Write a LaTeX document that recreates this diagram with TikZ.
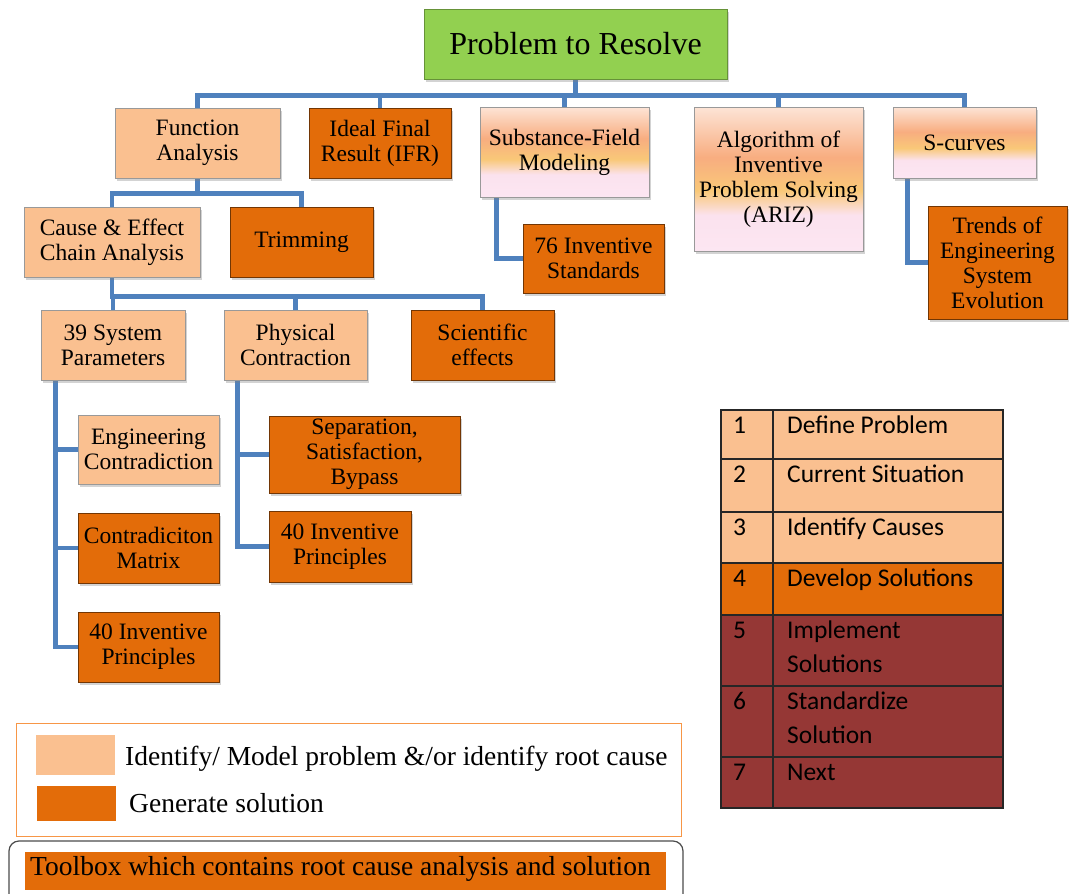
\documentclass[tikz,border=0pt]{standalone}
\usepackage{fontspec}
\setmainfont{Liberation Serif}
\newfontfamily\tabfont{Carlito}
\usetikzlibrary{shadows,backgrounds}

\definecolor{peach}{HTML}{FAC090}
\definecolor{solorange}{HTML}{E36C09}
\definecolor{leaf}{HTML}{92D050}
\definecolor{wine}{HTML}{953735}
\definecolor{link}{HTML}{4F81BD}
\definecolor{legendline}{HTML}{F79646}
\definecolor{peachtop}{HTML}{FDE4D6}
\definecolor{salmon}{HTML}{F8AD80}
\definecolor{sunyellow}{HTML}{F9C878}
\definecolor{pinka}{HTML}{FBE2EE}
\definecolor{pinkb}{HTML}{FCE6F2}

% sunset-like fill used by the three modelling tools
\pgfdeclareverticalshading{sunset}{100bp}{color(0bp)=(pinkb); color(25bp)=(pinkb);
  color(37.5bp)=(pinka); color(46bp)=(sunyellow); color(57.5bp)=(salmon);
  color(75bp)=(peachtop); color(100bp)=(peachtop)}

\tikzset{
  box/.style={draw=black!40, line width=0.8pt, inner sep=0pt, align=center,
    font=\fontsize{23.5}{25}\selectfont,
    drop shadow={shadow xshift=2pt, shadow yshift=-3pt, opacity=0.35}},
  probbox/.style={box, fill=peach},
  solbox/.style={box, fill=solorange, draw=black!50!solorange},
  sunbox/.style={box, shading=sunset},
  conn/.style={draw=link, line width=4.5pt},
  tabtext/.style={anchor=base west, inner sep=0pt, font=\tabfont\fontsize{25.5}{34}\selectfont},
  legtext/.style={anchor=base west, inner sep=0pt, font=\fontsize{27.5}{30}\selectfont},
}

\begin{document}
\begin{tikzpicture}[x=1pt, y=-1pt]
\clip (0,0) rectangle (1069,894);

% root
\node[box, fill=leaf, draw=black!30!leaf, minimum width=303, minimum height=70,
  font=\fontsize{32}{34}\selectfont] (root) at (575.5,44) {Problem to Resolve};

% first level
\node[probbox, minimum width=165, minimum height=70] (fa) at (197.5,143) {Function\\Analysis};
\node[solbox, minimum width=142, minimum height=70] (ifr) at (380,143) {Ideal Final\\Result (IFR)};
\node[sunbox, minimum width=169, minimum height=90] (sf) at (564.5,152) {Substance-Field\\Modeling};
\node[sunbox, minimum width=169, minimum height=144] (ariz) at (778.5,179) {Algorithm of\\Inventive\\Problem Solving\\(ARIZ)};
\node[sunbox, minimum width=143, minimum height=71] (sc) at (964.5,142.5) {S-curves};

% second level
\node[probbox, minimum width=176, minimum height=70] (cause) at (112,242) {Cause \& Effect\\Chain Analysis};
\node[solbox, minimum width=143, minimum height=70] (trim) at (301.5,242) {Trimming};
\node[solbox, minimum width=141, minimum height=69] (inv76) at (593.5,258.5) {76 Inventive\\Standards};
\node[solbox, minimum width=139, minimum height=113] (trends) at (997.5,262.5) {Trends of\\Engineering\\System\\Evolution};

% third level
\node[probbox, minimum width=144, minimum height=70] (sp39) at (113,345) {39 System\\Parameters};
\node[probbox, minimum width=143, minimum height=70] (phys) at (295.5,345) {Physical\\Contraction};
\node[solbox, minimum width=143, minimum height=70] (sci) at (482.5,345) {Scientific\\effects};

% fourth level
\node[probbox, minimum width=141, minimum height=69] (ec) at (148.5,449.5) {Engineering\\Contradiction};
\node[solbox, minimum width=141, minimum height=70] (cm) at (148.5,548) {Contradiciton\\Matrix};
\node[solbox, minimum width=141, minimum height=70] (ip1) at (148.5,647) {40 Inventive\\Principles};
\node[solbox, minimum width=191, minimum height=77] (sep) at (364.5,454.5) {Separation,\\Satisfaction,\\Bypass};
\node[solbox, minimum width=142, minimum height=71] (ip2) at (340,546.5) {40 Inventive\\Principles};

% connectors
\begin{pgfonlayer}{background}
  \foreach \c in {fa,ifr,sf,ariz,sc}
    \draw[conn] (root.south) -- ++(0,16) -| (\c.north);
  \foreach \c in {cause,trim}
    \draw[conn] (fa.south) -- ++(0,15) -| (\c.north);
  \foreach \c in {sp39,phys,sci}
    \draw[conn] (cause.south) -- ++(0,19) -| (\c.north);
  \foreach \c in {ec,cm,ip1}
    \draw[conn] ([xshift=15pt]sp39.south west) |- (\c.west);
  \foreach \c in {sep,ip2}
    \draw[conn] ([xshift=14pt]phys.south west) |- (\c.west);
  \draw[conn] ([xshift=17pt]sf.south west) |- (inv76.west);
  \draw[conn] ([xshift=15pt]sc.south west) |- (trends.west);
\end{pgfonlayer}

% seven-step table
\fill[peach] (721,410) rectangle (1003,563);
\fill[solorange] (721,563) rectangle (1003,615);
\fill[wine] (721,615) rectangle (1003,808);
\draw[line width=1.5pt, black!85] (721,410) rectangle (1003,808)
  (773,410) -- (773,808);
\foreach \yy in {459,512,563,615,686,757}
  \draw[line width=1.5pt, black!85] (721,\yy) -- (1003,\yy);
\node[tabtext] (n1) at (733,433) {1};
\node[tabtext] (s1) at (787,433) {Define Problem};
\node[tabtext] (n2) at (733,482) {2};
\node[tabtext] (s2) at (787,482) {Current Situation};
\node[tabtext] (n3) at (733,535) {3};
\node[tabtext] (s3) at (787,535) {Identify Causes};
\node[tabtext] (n4) at (733,586) {4};
\node[tabtext] (s4) at (787,586) {Develop Solutions};
\node[tabtext] (n5) at (733,638) {5};
\node[tabtext] (s5) at (787,638) {Implement};
\node[tabtext] (s5b) at (787,672) {Solutions};
\node[tabtext] (n6) at (733,709) {6};
\node[tabtext] (s6) at (787,709) {Standardize};
\node[tabtext] (s6b) at (787,743) {Solution};
\node[tabtext] (n7) at (733,780) {7};
\node[tabtext] (s7) at (787,780) {Next};

% legend
\node[draw=legendline, line width=1pt, minimum width=665, minimum height=113, inner sep=0pt]
  (legend) at (348.5,779.5) {};
\node[fill=peach, minimum width=79, minimum height=40, inner sep=0pt] (swp) at (75.5,755) {};
\node[fill=solorange, minimum width=79, minimum height=35, inner sep=0pt] (sws) at (76.5,803.5) {};
\node[legtext] (lp) at (125,765) {Identify/ Model problem \&/or identify root cause};
\node[legtext] (ls) at (129,812) {Generate solution};

% toolbox banner
\draw[black!70, line width=1.2pt, rounded corners=10pt] (9,841) rectangle (683,930);
\node[fill=solorange, minimum width=641, minimum height=38, inner sep=0pt] (tb) at (345.5,871) {};
\node[legtext] (tbt) at (30,875) {Toolbox which contains root cause analysis and solution};
\end{tikzpicture}
\end{document}
